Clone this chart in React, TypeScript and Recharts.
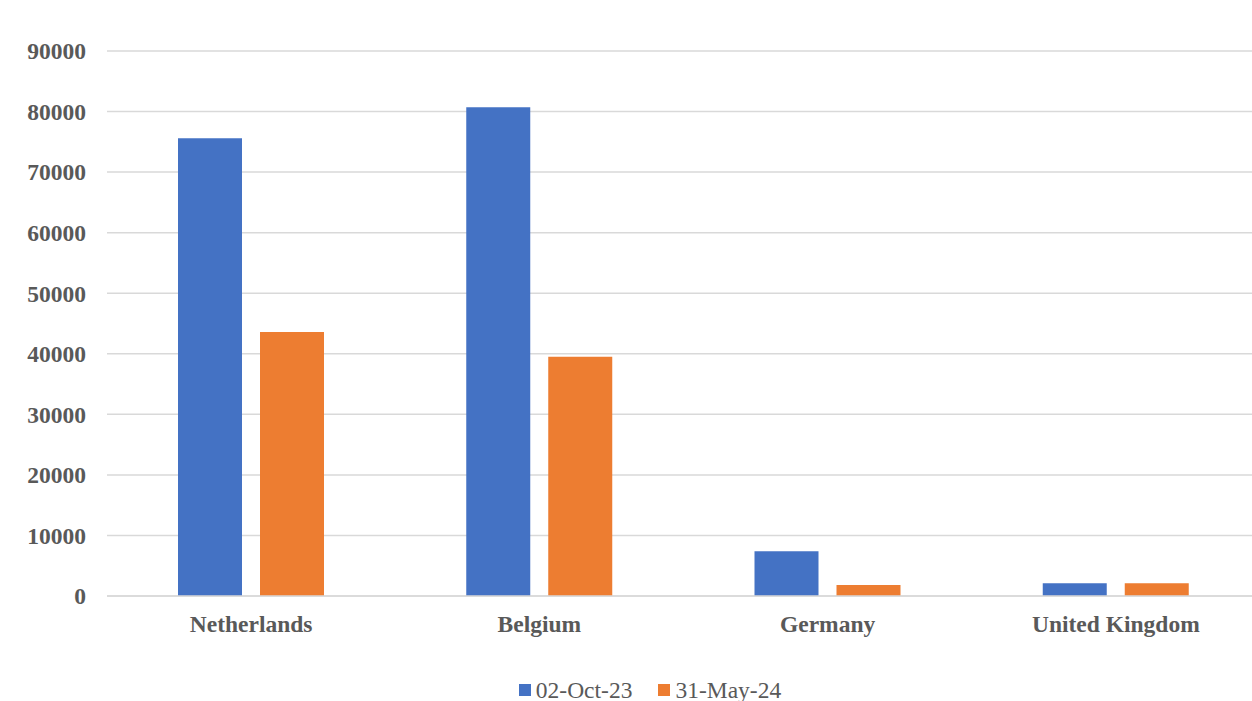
import { Bar, BarChart, CartesianGrid, Legend, XAxis, YAxis } from 'recharts';

const countries = ['Netherlands', 'Belgium', 'Germany', 'United Kingdom'];
const oct23 = [75600, 80700, 7400, 2100];
const may24 = [43600, 39500, 1800, 2100];
const yTicks = [0, 10000, 20000, 30000, 40000, 50000, 60000, 70000, 80000, 90000];

const BLUE = '#4472C4';
const ORANGE = '#ED7D31';
const TEXT = '#595959';
const GRID = '#D9D9D9';
const FONT = '"Liberation Serif", "Times New Roman", serif';

const data = countries.map((c, i) => ({ country: c, oct23: oct23[i], may24: may24[i] }));

const legendItems = [
  { label: '02-Oct-23', color: BLUE },
  { label: '31-May-24', color: ORANGE },
];

const LegendContent = () => (
  <div
    style={{
      height: 40,
      display: 'flex',
      justifyContent: 'center',
      alignItems: 'flex-end',
      paddingLeft: 66,
      boxSizing: 'border-box',
      fontFamily: FONT,
      fontSize: 23.5,
      color: TEXT,
      lineHeight: '22px',
    }}
  >
    {legendItems.map(it => (
      <div key={it.label} style={{ display: 'flex', alignItems: 'center', marginRight: 26 }}>
        <span style={{ width: 12, height: 12, background: it.color, marginRight: 5, display: 'inline-block' }} />
        <span>{it.label}</span>
      </div>
    ))}
  </div>
);

const App = () => (
  <div style={{ position: 'absolute', left: 0, top: 0, width: 1252, height: 701, overflow: 'hidden', background: '#fff' }}>
    <BarChart
      width={1252}
      height={701}
      data={data}
      margin={{ top: 51, right: -8, left: 0, bottom: 0 }}
      barSize={64}
      barGap={18}
    >
      <CartesianGrid stroke={GRID} strokeWidth={1.5} vertical={false} />
      <XAxis
        dataKey="country"
        height={65}
        tickLine={false}
        axisLine={{ stroke: GRID, strokeWidth: 1.5 }}
        tickMargin={13}
        tick={{ fill: TEXT, fontSize: 23.5, fontWeight: 700, fontFamily: FONT }}
      />
      <YAxis
        width={107}
        domain={[0, 90000]}
        ticks={yTicks}
        axisLine={false}
        tickLine={false}
        tickMargin={15}
        tick={{ fill: TEXT, fontSize: 23.5, fontWeight: 700, fontFamily: FONT }}
      />
      <Legend verticalAlign="bottom" content={<LegendContent />} wrapperStyle={{ height: 40 }} />
      <Bar dataKey="oct23" name="02-Oct-23" fill={BLUE} isAnimationActive={false} />
      <Bar dataKey="may24" name="31-May-24" fill={ORANGE} isAnimationActive={false} />
    </BarChart>
  </div>
);

export default App;
